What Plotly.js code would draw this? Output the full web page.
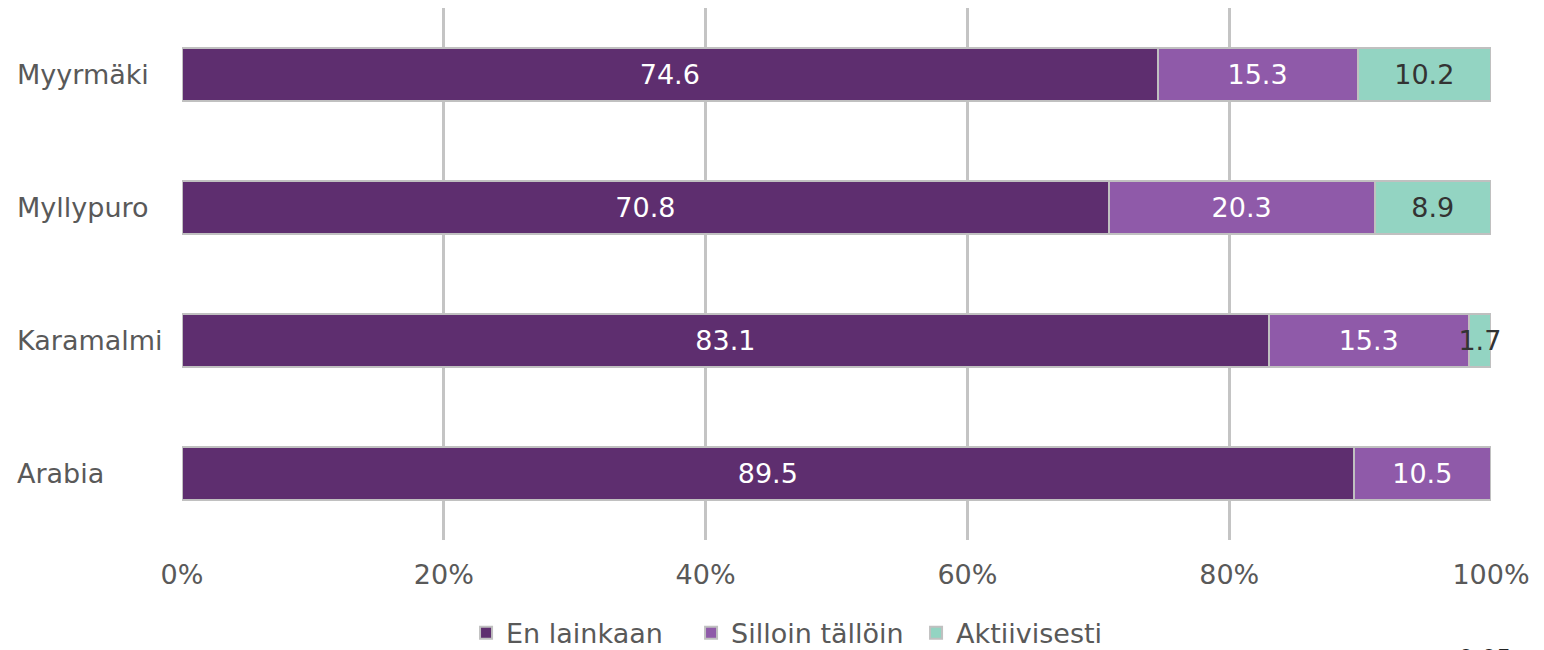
<!DOCTYPE html>
<html><head><meta charset="utf-8">
<script src="https://cdn.plot.ly/plotly-3.0.1.min.js"></script>
<style>html,body{margin:0;padding:0;background:#fff}#chart{width:1544px;height:650px}</style>
</head><body><div id="chart"></div>
<script>
const categories = ["Myyrmäki", "Myllypuro", "Karamalmi", "Arabia"];
const seriesNames = ["En lainkaan", "Silloin tällöin", "Aktiivisesti"];
const enLainkaan = [74.6, 70.8, 83.1, 89.5];
const silloinTalloin = [15.3, 20.3, 15.3, 10.5];
const aktiivisesti = [10.2, 8.9, 1.7, 0];
const tickVals = [0, 20, 40, 60, 80, 100];
const tickLabels = ["0%", "20%", "40%", "60%", "80%", "100%"];
const note = "p<0.05";

const colors = ["#5e2e6f", "#8f5aa9", "#93d4c2"];
const textColors = ["#ffffff", "#ffffff", "#333333"];
const seriesVals = [enLainkaan, silloinTalloin, aktiivisesti];
const font = "DejaVu Sans, Liberation Sans, Arial, sans-serif";

const traces = seriesVals.map((vals, i) => ({
  type: "bar", orientation: "h", name: seriesNames[i],
  y: categories, x: vals,
  text: vals.map(v => v ? v.toFixed(1) : ""),
  textposition: "inside", insidetextanchor: "middle", constraintext: "none",
  textangle: 0,
  textfont: {family: font, size: 27, color: textColors[i]},
  marker: {color: colors[i], line: {color: "#c0c0c0", width: 2}},
  hoverinfo: "x+y+name", cliponaxis: false
}));

const catAnnotations = categories.map(c => ({
  text: c, xref: "paper", yref: "y", x: -0.1276, y: c, xanchor: "left", yanchor: "middle",
  showarrow: false, font: {family: font, size: 27, color: "#595959"}
}));

const layout = {
  width: 1544, height: 650,
  margin: {l: 182, r: 53, t: 8, b: 110},
  barmode: "stack", barnorm: "percent", bargap: 0.6,
  paper_bgcolor: "#fff", plot_bgcolor: "#fff",
  font: {family: font, color: "#595959", size: 27},
  xaxis: {range: [0, 100], tickvals: tickVals, ticktext: tickLabels,
    showgrid: true, gridcolor: "#c4c4c4", gridwidth: 3, zeroline: false,
    showline: false, ticks: "", ticklabelstandoff: 16,
    tickfont: {size: 27, color: "#595959"}, fixedrange: true},
  yaxis: {autorange: "reversed", showgrid: false, ticks: "", showticklabels: false, automargin: false},
  showlegend: true,
  legend: {orientation: "h", x: 0.217, xanchor: "left", yref: "container", y: 0.026, yanchor: "middle",
    font: {size: 27, color: "#595959"}, itemwidth: 30, entrywidth: 180, entrywidthmode: "pixels",
    traceorder: "normal"},
  annotations: catAnnotations.concat([{text: note, xref: "paper", yref: "paper", x: 0.982, y: -0.194,
    xanchor: "center", yanchor: "top", showarrow: false, font: {family: font, size: 24, color: "#222"}}])
};
Plotly.newPlot("chart", traces, layout, {displayModeBar: false, staticPlot: true});
</script></body></html>
